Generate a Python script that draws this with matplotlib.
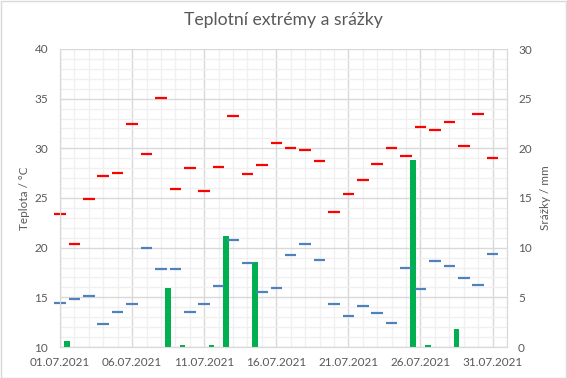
import matplotlib
matplotlib.use("Agg")
import matplotlib.pyplot as plt
import numpy as np
from matplotlib.ticker import MultipleLocator, FixedLocator, FixedFormatter
from matplotlib.patches import Rectangle

plt.rcParams['font.family'] = ['Lato', 'DejaVu Sans']

days = list(range(1, 32))
tmax = [23.4, 20.4, 24.9, 27.2, 27.5, 32.5, 29.4, 35.1, 25.9, 28.0, 25.7,
        28.1, 33.3, 27.4, 28.3, 30.5, 30.0, 29.8, 28.7, 23.6, 25.4, 26.8,
        28.4, 30.0, 29.2, 32.1, 31.8, 32.7, 30.2, 33.5, 29.0]
tmin = [14.4, 14.8, 15.1, 12.3, 13.5, 14.3, 20.0, 17.9, 17.9, 13.5, 14.3,
        16.1, 20.8, 18.5, 15.5, 15.9, 19.3, 20.4, 18.8, 14.3, 13.1, 14.1,
        13.4, 12.4, 18.0, 15.8, 18.7, 18.2, 16.9, 16.2, 19.4]
precip = [0.6, 0, 0, 0, 0, 0, 0, 5.9, 0.2, 0, 0.2,
          11.2, 0, 8.6, 0, 0, 0, 0, 0, 0, 0, 0,
          0, 0, 18.8, 0.2, 0, 1.8, 0, 0, 0]
tick_days = [1, 6, 11, 16, 21, 26, 31]
tick_labels = ["01.07.2021", "06.07.2021", "11.07.2021", "16.07.2021",
               "21.07.2021", "26.07.2021", "31.07.2021"]

TXT = '#595959'
GMAJ = '#D9D9D9'
GMIN = '#F0F0F0'

fig = plt.figure(figsize=(5.67, 3.78), dpi=100)
ax2 = fig.add_axes([60/567, 31/378, 447/567, 298/378])
ax = ax2.twinx()

x = np.array(days) - 1
# precipitation bars (secondary axis, right)
ax2.bar(x + 0.5, precip, width=0.4, color='#00B050', zorder=3)
ax2.set_ylim(0, 30)
ax2.set_xlim(0, 31)
ax2.yaxis.set_major_locator(MultipleLocator(5))
ax2.yaxis.set_minor_locator(MultipleLocator(1))
ax2.xaxis.set_major_locator(FixedLocator([d - 1 for d in tick_days]))
ax2.xaxis.set_major_formatter(FixedFormatter(tick_labels))
ax2.xaxis.set_minor_locator(MultipleLocator(1))
ax2.grid(which='major', color=GMAJ, lw=1.0, zorder=0)
ax2.grid(which='minor', color=GMIN, lw=1.0, zorder=0)
ax2.set_axisbelow(True)
ax2.yaxis.tick_right()
ax2.yaxis.set_label_position('right')
ax2.tick_params(axis='both', which='both', length=0, colors=TXT, labelsize=8.5)
ax2.tick_params(axis='y', pad=8)
ax2.tick_params(axis='x', pad=7.5)
ax2.set_ylabel('Srážky / mm', color=TXT, fontsize=8.5, labelpad=6)

# temperatures (primary axis, left) drawn on top
ax.set_zorder(ax2.get_zorder() + 1)
ax.patch.set_visible(False)
ax.hlines(tmax, x - 0.4, x + 0.4, colors='#FF0000', lw=1.6, clip_on=False)
ax.hlines(tmin, x - 0.4, x + 0.4, colors='#4F81BD', lw=1.6, clip_on=False)
ax.set_ylim(10, 40)
ax.set_xlim(0, 31)
ax.yaxis.set_major_locator(MultipleLocator(5))
ax.yaxis.tick_left()
ax.yaxis.set_label_position('left')
ax.tick_params(axis='both', which='both', length=0, colors=TXT, labelsize=8.5)
ax.tick_params(axis='y', pad=8.5)
ax.set_ylabel('Teplota / °C', color=TXT, fontsize=8.5, labelpad=3)

for a in (ax, ax2):
    for s in a.spines.values():
        s.set_color(GMAJ)
    a.spines['top'].set_visible(False)

fig.text(0.5, 1 - 20/378, 'Teplotní extrémy a srážky', ha='center', va='center',
         color=TXT, fontsize=12.7)

fig.patches.append(Rectangle((0.5/567, 0.5/378), 1 - 1.5/567, 1 - 1.5/378,
                             transform=fig.transFigure, fill=False,
                             edgecolor='#D9D9D9', lw=1.0))

fig.savefig('out.png', dpi=100)
